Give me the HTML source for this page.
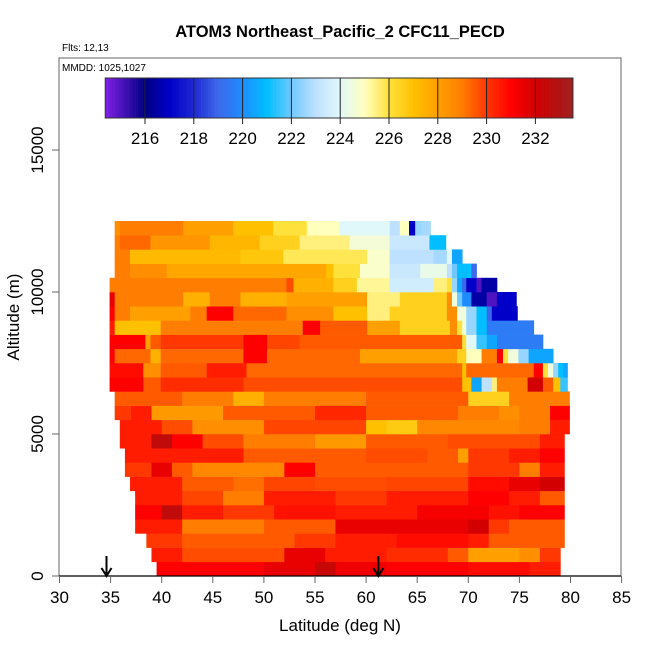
<!DOCTYPE html>
<html><head><meta charset="utf-8">
<style>
html,body{margin:0;padding:0;background:#fff;}
svg{display:block;font-family:"Liberation Sans",sans-serif;}
</style></head>
<body>
<svg id="chart" width="650" height="650" viewBox="0 0 650 650" xmlns="http://www.w3.org/2000/svg">
<text x="340" y="37" text-anchor="middle" font-size="16.5" font-weight="bold">ATOM3 Northeast_Pacific_2 CFC11_PECD</text>
<text x="62" y="51" font-size="10">Flts: 12,13</text>
<g id="heat"></g>
<g id="cbar"></g>
<rect x="59" y="58" width="562" height="518" fill="none" stroke="#666" stroke-width="1"/>
<text x="62" y="71" font-size="10">MMDD: 1025,1027</text>
<g id="axes"></g>
<text x="340" y="631" text-anchor="middle" font-size="17">Latitude (deg N)</text>
<text x="0" y="0" transform="translate(19,317) rotate(-90)" text-anchor="middle" font-size="17">Altitude (m)</text>
</svg>
<script>
// ---- data ----
const rowStart = [39.5,39,38.5,37.4,37.4,37.4,36.9,36.4,36.4,35.9,35.9,35.4,35.4,34.9,34.9,34.9,34.9,34.9,34.9,34.9,34.9,35.4,35.4,35.4,35.4];
const rowEnd   = [79,79,79.4,79.4,79.4,79.4,79.4,79.4,79.4,79.4,79.9,79.9,79.9,79.7,79.7,78.3,77.3,76.4,74.8,74.7,72.8,70.8,69.4,67.8,66.3];
const segLat = [
 [39.5,50,55,57,62,70,76],
 [39,42,52,56,62,68,70,75,77],
 [38.5,42,53,57,63,70,72],
 [37.4,42,50,57,70,72,74],
 [37.4,40,42,46,51,57,65,72,75],
 [37.4,42,46,50,57,62,70,74,77],
 [36.9,42,47,50,55,62,70,74,77],
 [36.4,39,41,43,52,55,70,75,77],
 [36.4,48,60,66,69,70,74,77],
 [35.9,39,41,44,48,55,60,68,77],
 [35.9,40,43,50,60,62,65,75,78],
 [35.4,37,39,46,55,60,69,73,75,78],
 [35.4,42,47,50,60,70,74],
 [34.9,38.2,39.9,48,69.4,70.3,71.3,72.3,72.8,75.8,77.3,78.3,79],
 [34.9,38.2,39.9,44.4,48.3,69.4,69.8,76.4,77.3,77.8,78.3,78.8,79.3],
 [34.9,35.4,38.9,39.9,48,50.3,59.4,68.9,69.8,71.3,72.8,73.4,73.9,74.9,75.9],
 [34.9,38.4,38.9,39.9,48,50.3,53.5,69.4,69.8,70.8,71.8,72.8],
 [34.9,35.4,39.9,53.8,55.5,60.1,63.3,68.2,68.9,69.4,69.8,70.8,71.8],
 [34.9,35.4,36.9,42.8,44.4,47,52.2,56.8,60.1,62.3,67.9,68.9,69.8,70.8,71.8,72.3],
 [34.9,35.4,42.1,44.7,47.7,52.2,60.1,63.3,67.9,68.4,68.9,69.4,70.3,71.8,72.8],
 [34.9,52.2,52.9,56.8,59.1,62.3,66.6,67.9,68.4,68.9,69.4,69.8,70.8,71.3],
 [35.4,36.9,40.5,56.1,56.8,59.4,62.3,65.3,67.9,68.4,68.9,70.3],
 [35.4,36.9,47.7,51.9,60.1,62.3,66.6,67.9,68.4],
 [35.4,35.9,38.9,44.7,49.6,53.5,58.4,62.3,66.2],
 [35.4,35.9,42.1,47,50.9,54.2,57.4,62.3,63.3,64.2,64.8,65.4]
];
const segVal = [
 [231,231.5,232.3,231.3,231,230.8,230.5],
 [230.5,229.7,231.5,230.5,230.2,229.5,228,228.5,230],
 [230,229.5,230,230.5,230.8,230.5,229.5],
 [230.5,229,229.5,231.5,232,230,229.5],
 [231,232.5,230.5,230,230.7,230.5,231.2,230.7,231],
 [230.5,229.8,229,230.5,230,230.5,231,230.5,229.5],
 [230.5,229.5,229.2,229.8,229.7,229.8,230.8,231.5,232],
 [230,231.5,229.5,228.7,231,229.5,230,229,230.5],
 [230.5,229.5,229.7,229.5,228,230,230.5,231],
 [230.5,232.5,231,229.7,229,228.2,229.5,229.7,230.5],
 [230.5,229.7,228.5,229.8,227,226.7,228.7,229,230.5],
 [230,230.5,228.2,229.5,230.3,229.5,229,228.5,229,231],
 [229.5,229,227.5,229,229.5,226.5,229],
 [231,229.5,230.2,229.7,227,220.5,223,225.5,229,232,229.5,227,221.5],
 [230.8,228.5,229.5,230.5,229.3,227,229.3,231,226,224.5,222.5,221,220.5],
 [231,229.3,227.5,229.3,231,229.3,228,226.5,225,229,231,226,224.5,222.5,220.5],
 [231,228,229.5,230,231,229.8,229.5,226,224,221.5,220.5,219.5],
 [230.5,227,229,231,229.5,228,226.5,228.5,226,224.5,222.5,221,219.5],
 [231,229,228,229,231,229.3,228.5,227,225.5,226.5,228.5,224.5,222.5,221,219,217],
 [231.5,229,227.5,229,227.5,228,225.5,226.5,228.5,224.5,222,220,216.5,215,217],
 [229,229.7,227.5,226.5,225.3,223.5,225.5,226,222.5,220.5,219,217,215,216.5],
 [229,228.5,227.8,227,226,224.8,223.3,224.3,223,222,221,219],
 [229,227.2,226.8,225.8,224.8,223,222.7,224,220.5],
 [229,229.3,228.3,227.3,226.5,225.5,224.6,223.3,221],
 [228.5,229,228,227,226,225,224,223,225,217,222.5,222.7]
];
const rowHeight = 500;
const xTicks = [30,35,40,45,50,55,60,65,70,75,80,85];
const yTicks = [0,5000,10000,15000];
const cbTicks = [216,218,220,222,224,226,228,230,232];
const arrowLats = [34.6,61.2];

// ---- scales ----
const X = lat => 59.5 + (lat-30)*10.22;
const Y = alt => 576 - alt*0.0284;
const CBX = v => 145 + (v-216)*24.4;
const cbMin = 214.37, cbMax = 233.54;

const stops = [
 [214.37,[128,32,230]],[216,[0,0,130]],[217,[0,0,200]],[218,[30,40,210]],[219,[60,105,235]],
 [220,[30,140,255]],[221,[0,190,255]],[222,[110,200,255]],[223,[190,225,255]],[224,[225,248,250]],
 [225,[255,255,190]],[226,[255,225,60]],[227,[255,192,0]],[228,[255,160,0]],[229,[255,125,0]],
 [230,[255,55,0]],[231,[255,0,0]],[232,[210,0,0]],[233,[175,20,20]],[233.54,[160,32,32]]
];
function color(v){
  if(v<=stops[0][0]) return 'rgb('+stops[0][1]+')';
  for(let i=1;i<stops.length;i++){
    if(v<=stops[i][0]){
      const t=(v-stops[i-1][0])/(stops[i][0]-stops[i-1][0]);
      const a=stops[i-1][1], b=stops[i][1];
      return 'rgb('+a.map((c,k)=>Math.round(c+(b[k]-c)*t)).join(',')+')';
    }
  }
  return 'rgb('+stops[stops.length-1][1]+')';
}
const NS='http://www.w3.org/2000/svg';
function mk(tag, attrs, parent){
  const e=document.createElementNS(NS,tag);
  for(const k in attrs) e.setAttribute(k, attrs[k]);
  parent.appendChild(e); return e;
}

// ---- heatmap ----
const heat=document.getElementById('heat');
for(let r=0;r<segLat.length;r++){
  const y0=Y((r+1)*rowHeight), y1=Y(r*rowHeight);
  for(let s=0;s<segLat[r].length;s++){
    const a=Math.max(segLat[r][s], rowStart[r]);
    const b=(s+1<segLat[r].length)?segLat[r][s+1]:rowEnd[r];
    if(b<=a) continue;
    const rc=mk('rect',{x:X(a).toFixed(2),y:y0.toFixed(2),width:(X(b)-X(a)+0.4).toFixed(2),height:(y1-y0+0.3).toFixed(2),fill:color(segVal[r][s])},heat);
    
    
  }
}

// ---- colorbar ----
const cb=document.getElementById('cbar');
const steps=200;
for(let i=0;i<steps;i++){
  const v0=cbMin+(cbMax-cbMin)*i/steps, v1=cbMin+(cbMax-cbMin)*(i+1)/steps;
  const rc=mk('rect',{x:CBX(v0).toFixed(2),y:78,width:(CBX(v1)-CBX(v0)+0.3).toFixed(2),height:40,fill:color((v0+v1)/2)},cb);
  
  
}
const cbf=mk('rect',{x:CBX(cbMin),y:78,width:CBX(cbMax)-CBX(cbMin),height:40,fill:'none',stroke:'#333','stroke-width':1},cb);


cbTicks.forEach(v=>{
  const l=mk('line',{x1:CBX(v),x2:CBX(v),y1:78,y2:124,stroke:'#222','stroke-width':1},cb);
  
  
  const t=mk('text',{x:CBX(v),y:144,'text-anchor':'middle','font-size':17},cb);
  t.textContent=v;
  
  
});

// ---- axes ----
const ax=document.getElementById('axes');
const xl=mk('line',{x1:59,x2:621,y1:576,y2:576,stroke:'#000','stroke-width':1.2},ax);


xTicks.forEach(v=>{
  const l=mk('line',{x1:X(v),x2:X(v),y1:576,y2:583,stroke:'#666'},ax);
  
  
  const t=mk('text',{x:X(v),y:603,'text-anchor':'middle','font-size':17},ax);
  t.textContent=v;
  
  
});
yTicks.forEach(v=>{
  const l=mk('line',{x1:52,x2:59,y1:Y(v),y2:Y(v),stroke:'#666'},ax);
  
  
  const t=mk('text',{x:0,y:0,transform:'translate(43,'+Y(v)+') rotate(-90)','text-anchor':'middle','font-size':17},ax);
  t.textContent=v;
  
  
});
arrowLats.forEach(v=>{
  const g=mk('g',{},ax);
  
  
  mk('line',{x1:X(v),x2:X(v),y1:556,y2:575,stroke:'#000','stroke-width':2},g);
  mk('polyline',{points:(X(v)-5)+',568 '+X(v)+',576 '+(X(v)+5)+',568',fill:'none',stroke:'#000','stroke-width':2},g);
});
</script>
</body></html>
